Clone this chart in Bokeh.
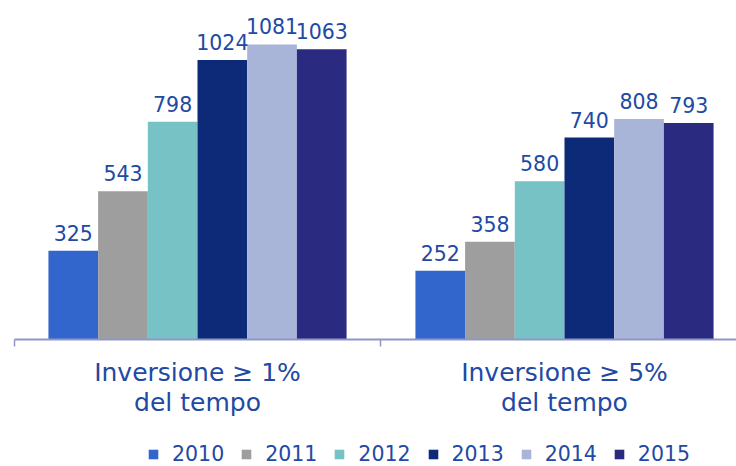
from bokeh.plotting import figure
from bokeh.models import (ColumnDataSource, FixedTicker, Legend, LegendItem, Range1d,
                          LabelSet, LinearAxis)
from bokeh.core.properties import value
from bokeh.embed import file_html
from bokeh.resources import INLINE

# ---- data ----
categories = ["Inversione ≥ 1%\ndel tempo", "Inversione ≥ 5%\ndel tempo"]
years = ["2010", "2011", "2012", "2013", "2014", "2015"]
v2010 = [325, 252]
v2011 = [543, 358]
v2012 = [798, 580]
v2013 = [1024, 740]
v2014 = [1081, 808]
v2015 = [1063, 793]
series = [v2010, v2011, v2012, v2013, v2014, v2015]

colors = ["#3366cc", "#9e9e9e", "#77c2c4", "#0c2a78", "#a9b5d8", "#2a2a80"]
text_color = "#2249a3"
FONT = "DejaVu Sans"

cat_centers = [i + 0.5 for i in range(len(categories))]
bar_w = 0.1354

p = figure(frame_width=736, frame_height=466, output_backend="svg", toolbar_location=None,
           x_range=Range1d(-0.0368, 1.9687), y_range=Range1d(-465.4, 1242),
           x_axis_location=None, y_axis_location=None, min_border=0,
           outline_line_color=None)
p.xgrid.visible = False
p.ygrid.visible = False

items = []
for k, (yr, vals, col) in enumerate(zip(years, series, colors)):
    xs = [c + (k - 2.5) * bar_w for c in cat_centers]
    src = ColumnDataSource(dict(x=xs, top=vals, lab=[str(v) for v in vals]))
    r = p.vbar(x="x", top="top", bottom=0, width=bar_w, source=src,
               fill_color=col, line_color=None)
    items.append(LegendItem(label=yr, renderers=[r]))
    ls = LabelSet(x="x", y="top", text="lab", source=src, text_align="center",
                  text_baseline="alphabetic", y_offset=10, text_color=text_color,
                  text_font=value(FONT), text_font_size="20.5px")
    p.add_layout(ls)

ax = LinearAxis(fixed_location=0)
ax.ticker = FixedTicker(ticks=cat_centers, minor_ticks=[0, 1, 2])
ax.major_label_overrides = {c: lab for c, lab in zip(cat_centers, categories)}
ax.bounds = (0, 2)
ax.axis_line_color = "#9096c8"
ax.axis_line_width = 2
ax.major_tick_out = 0
ax.major_tick_in = 0
ax.minor_tick_out = 7
ax.minor_tick_in = 0
ax.minor_tick_line_color = "#9096c8"
ax.minor_tick_line_width = 1.5
ax.major_label_text_font = FONT
ax.major_label_text_font_size = "25px"
ax.major_label_text_line_height = 1.03
ax.major_label_text_color = text_color
ax.major_label_standoff = 12
ax.major_label_orientation = "horizontal"
p.add_layout(ax, "below")

legend = Legend(items=items, orientation="horizontal", location=(147, 0),
                glyph_width=12, glyph_height=12, label_standoff=13, spacing=16,
                label_text_font=FONT, label_text_font_size="20.5px",
                label_text_color=text_color, border_line_alpha=0,
                background_fill_alpha=0, padding=0, margin=0)
p.add_layout(legend)

open("out.html", "w").write(file_html(p, INLINE))
